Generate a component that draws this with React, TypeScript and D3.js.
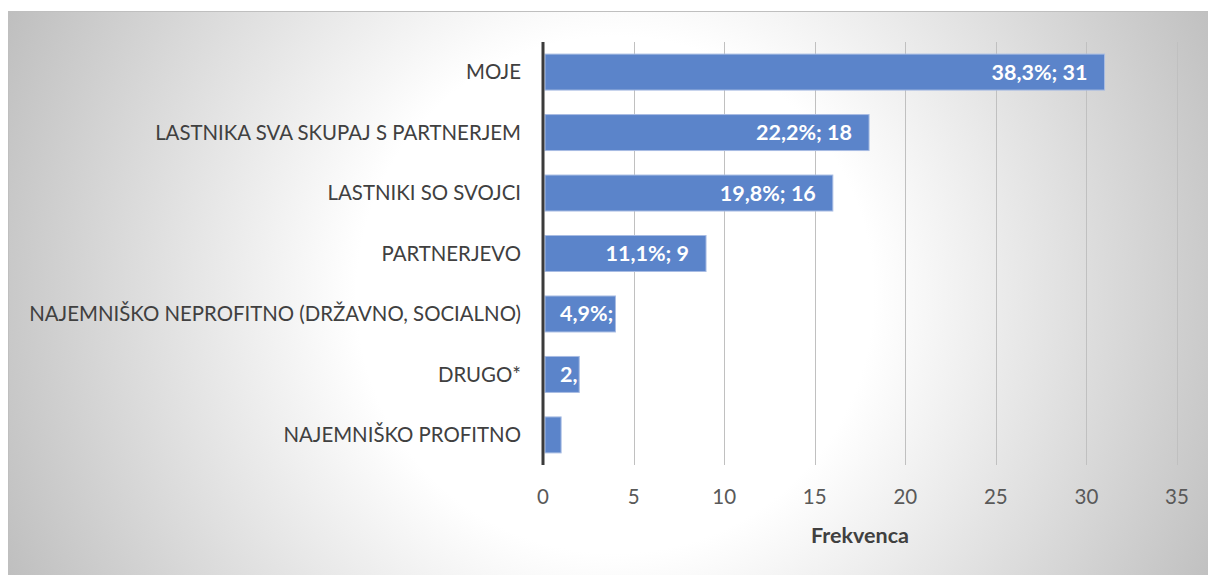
import React, { useEffect, useRef } from "react";
import * as d3 from "d3";

const categories = [
  "MOJE",
  "LASTNIKA SVA SKUPAJ S PARTNERJEM",
  "LASTNIKI SO SVOJCI",
  "PARTNERJEVO",
  "NAJEMNIŠKO NEPROFITNO (DRŽAVNO, SOCIALNO)",
  "DRUGO*",
  "NAJEMNIŠKO PROFITNO",
];
const counts = [31, 18, 16, 9, 4, 2, 1];
const percents = ["38,3%", "22,2%", "19,8%", "11,1%", "4,9%", "2,5%", "1,2%"];
const xTicks = [0, 5, 10, 15, 20, 25, 30, 35];
const axisTitle = "Frekvenca";

const W = 1208;
const H = 575;
const FONT = "Lato, 'Open Sans', sans-serif";

export default function App() {
  const ref = useRef<SVGSVGElement | null>(null);

  useEffect(() => {
    const svg = d3.select(ref.current);
    svg.selectAll("*").remove();

    const defs = svg.append("defs");
    const grad = defs
      .append("radialGradient")
      .attr("id", "bgGrad")
      .attr("gradientUnits", "userSpaceOnUse")
      .attr("cx", 615)
      .attr("cy", 295)
      .attr("r", 680);
    grad.append("stop").attr("offset", 0).attr("stop-color", "#ffffff");
    grad.append("stop").attr("offset", 0.38).attr("stop-color", "#ffffff");
    grad.append("stop").attr("offset", 1).attr("stop-color", "#bdbdbd");

    // frame
    svg
      .append("rect")
      .attr("x", 8.5)
      .attr("y", 11.5)
      .attr("width", W - 8)
      .attr("height", H - 11)
      .attr("fill", "url(#bgGrad)")
      .attr("stroke", "#bfbfbf")
      .attr("stroke-width", 1);

    const x = d3.scaleLinear().domain([0, 35]).range([543, 1177]);
    const y = d3
      .scaleBand<string>()
      .domain(categories)
      .range([42, 465])
      .paddingInner(0.405)
      .paddingOuter(0.2);

    // gridlines
    svg
      .append("g")
      .selectAll("line")
      .data(xTicks.filter((t) => t > 0))
      .join("line")
      .attr("x1", (d) => Math.round(x(d)) + 0.5)
      .attr("x2", (d) => Math.round(x(d)) + 0.5)
      .attr("y1", 42)
      .attr("y2", 465)
      .attr("stroke", "#c0c0c0")
      .attr("stroke-width", 1);

    // tick labels
    svg
      .append("g")
      .selectAll("text")
      .data(xTicks)
      .join("text")
      .attr("x", (d) => x(d))
      .attr("y", 497)
      .attr("dy", "0.35em")
      .attr("text-anchor", "middle")
      .attr("font-family", FONT)
      .attr("font-size", 20.5)
      .attr("fill", "#595959")
      .text((d) => String(d));

    // axis title
    svg
      .append("text")
      .attr("x", (x(0) + x(35)) / 2)
      .attr("y", 535)
      .attr("dy", "0.35em")
      .attr("text-anchor", "middle")
      .attr("font-family", FONT)
      .attr("font-weight", "bold")
      .attr("font-size", 21.5)
      .attr("fill", "#404040")
      .text(axisTitle);

    // category labels
    svg
      .append("g")
      .selectAll("text")
      .data(categories)
      .join("text")
      .attr("x", 521)
      .attr("y", (d) => (y(d) as number) + y.bandwidth() / 2)
      .attr("dy", "0.35em")
      .attr("text-anchor", "end")
      .attr("font-family", FONT)
      .attr("font-size", 20.4)
      .attr("fill", "#404040")
      .text((d) => d);

    const data = categories.map((c, i) => ({
      cat: c,
      v: counts[i],
      label: `${percents[i]}; ${counts[i]}`,
      i,
    }));

    const x0 = x(0) + 2;

    data.forEach((d) => {
      defs
        .append("clipPath")
        .attr("id", `clip${d.i}`)
        .append("rect")
        .attr("x", x0)
        .attr("y", y(d.cat) as number)
        .attr("width", Math.max(0, x(d.v) - x0 - 1))
        .attr("height", y.bandwidth());
    });

    // bars
    svg
      .append("g")
      .selectAll("rect")
      .data(data)
      .join("rect")
      .attr("x", x0)
      .attr("y", (d) => y(d.cat) as number)
      .attr("width", (d) => x(d.v) - x0)
      .attr("height", y.bandwidth())
      .attr("fill", "#5b84ca")
      .attr("stroke", "#a8bce3")
      .attr("stroke-width", 1);

    // bar labels
    const lbl = svg
      .append("g")
      .selectAll("text")
      .data(data)
      .join("text")
      .attr("clip-path", (d) => `url(#clip${d.i})`)
      .attr("y", (d) => (y(d.cat) as number) + y.bandwidth() / 2)
      .attr("dy", "0.35em")
      .attr("font-family", FONT)
      .attr("font-weight", "bold")
      .attr("font-size", 21.5)
      .attr("fill", "#ffffff")
      .text((d) => d.label);

    lbl.each(function (d) {
      const node = this as SVGTextElement;
      const w = node.getComputedTextLength();
      const xs = Math.max(x0 + 15, x(d.v) - 17 - w);
      d3.select(node).attr("x", xs);
    });

    // vertical axis line
    svg
      .append("line")
      .attr("x1", x(0))
      .attr("x2", x(0))
      .attr("y1", 42)
      .attr("y2", 465)
      .attr("stroke", "#3b3b3b")
      .attr("stroke-width", 3);
  }, []);

  return (
    <svg
      ref={ref}
      width={W}
      height={H}
      style={{ position: "absolute", left: 0, top: 0, display: "block" }}
    />
  );
}
